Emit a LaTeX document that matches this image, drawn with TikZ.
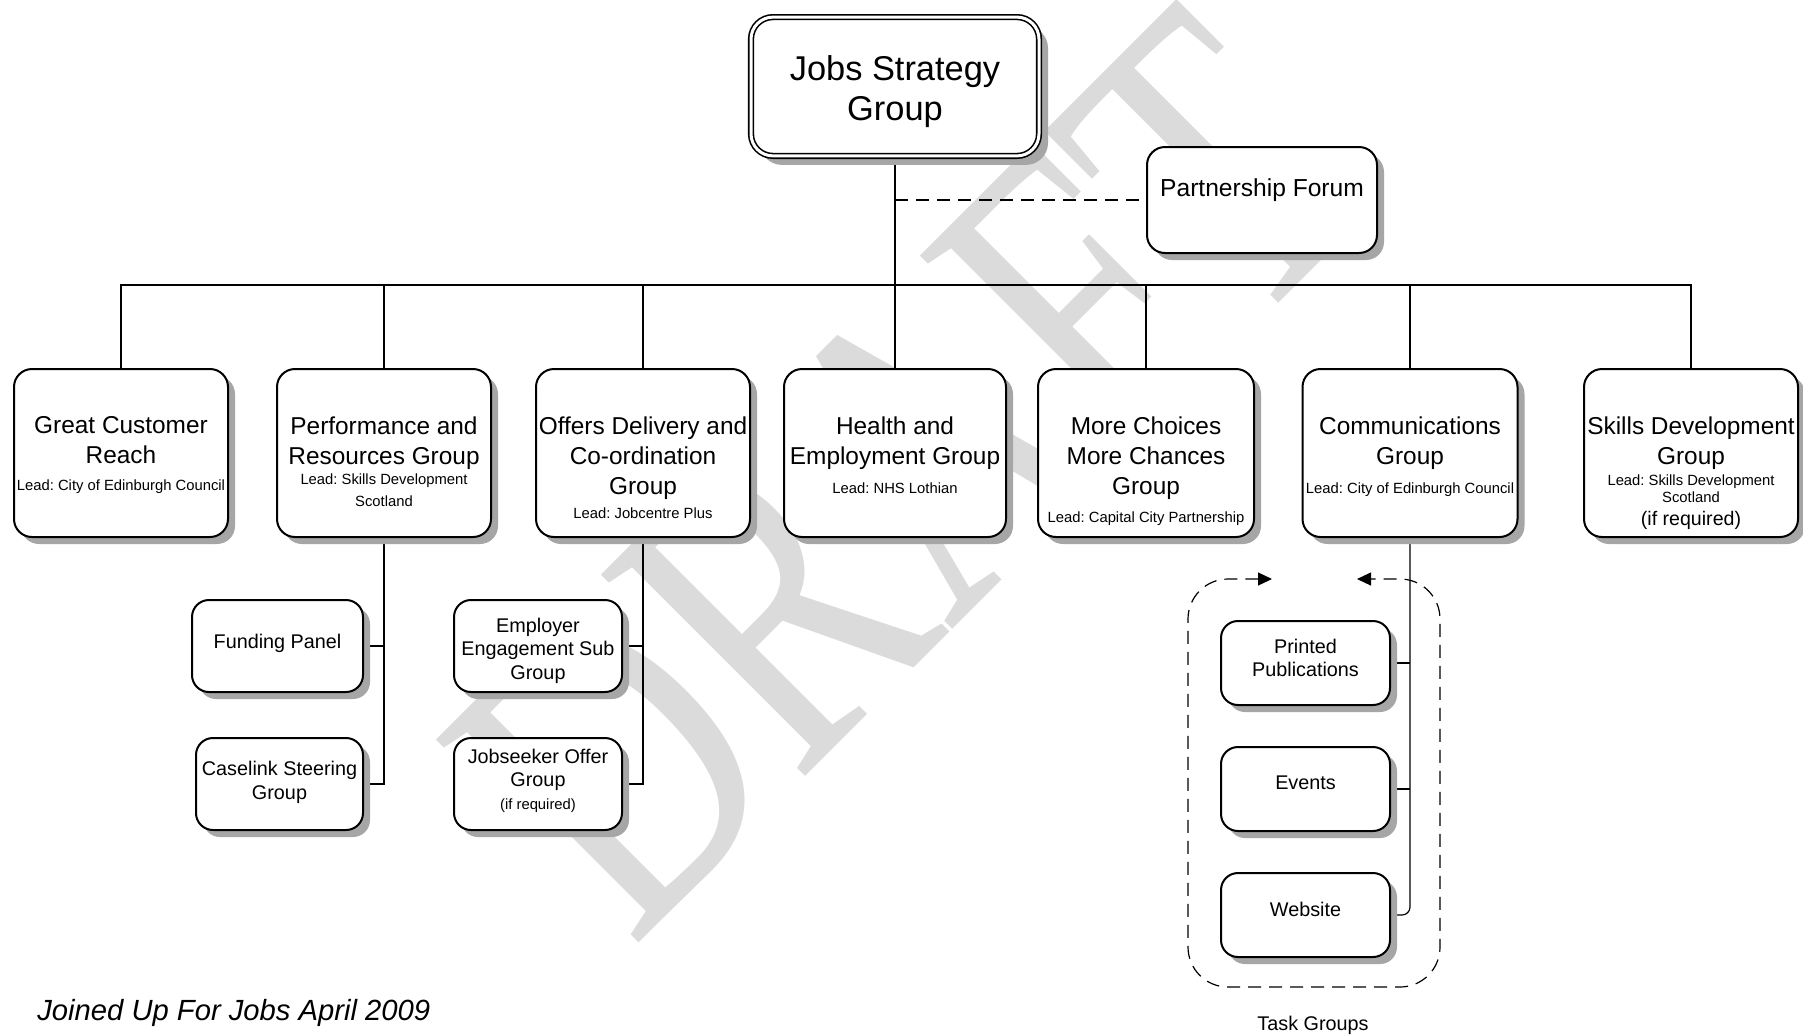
\documentclass[tikz,border=0pt]{standalone}
\usepackage{fontspec}
\setmainfont{Liberation Sans}
\newfontfamily\wmfont{Liberation Serif}
\usetikzlibrary{shadows,arrows.meta}
\pgfdeclarelayer{wmlayer}
\pgfdeclarelayer{bglayer}
\pgfsetlayers{wmlayer,bglayer,main}
\frenchspacing
\tikzset{
 box/.style={draw, line width=1pt, fill=white, rounded corners=9pt, inner sep=0pt,
   general shadow={fill=black!35, shadow xshift=3.5pt, shadow yshift=-3.5pt}},
 lvbox/.style={box, minimum width=107pt, minimum height=84pt},
 subbox/.style={box, rounded corners=8.5pt, minimum height=46pt},
 tkbox/.style={box, rounded corners=8.5pt, minimum width=84.5pt, minimum height=42pt},
 gtxt/.style={anchor=north, inner sep=0pt, align=center, font=\fontsize{12.2}{15}\selectfont},
 ltxt/.style={anchor=north, inner sep=0pt, align=center, font=\fontsize{7.4}{9}\selectfont},
 stxt/.style={anchor=north, inner sep=0pt, align=center, font=\fontsize{9.9}{11.75}\selectfont},
 conn/.style={line width=0.6pt},
 dconn/.style={conn, dash pattern=on 6.5pt off 4pt},
}
\begin{document}
\begin{tikzpicture}[x=0.5pt,y=-0.5pt]
\path[use as bounding box] (0,0) rectangle (1803,1035);

% background and watermark
\begin{pgfonlayer}{wmlayer}
\fill[white] (0,0) rectangle (1803,1035);
\node[anchor=base west, rotate=45, inner sep=0pt, text=black!14,
  font=\wmfont\fontsize{219}{219}\selectfont] (wm) at (632,950) {\scalebox{0.74}[1]{DRAFT}};
\end{pgfonlayer}

% top
\node[box, double, double distance=1.5pt, line width=0.8pt, rounded corners=11pt,
  minimum width=144pt, minimum height=69.4pt,
  general shadow={fill=black!35, shadow xshift=4.5pt, shadow yshift=-4.5pt}] (jsg) at (895,86.5) {};
\node[anchor=north, inner sep=0pt, align=center, font=\fontsize{17.2}{20}\selectfont] (jsg-t) at (895,55.3) {Jobs Strategy\\Group};

\node[box, minimum width=115pt, minimum height=53pt] (pf) at (1262,200) {};
\node[gtxt, font=\fontsize{12.3}{15}\selectfont] (pf-t) at (1262,178.5) {Partnership Forum};

% level 2
\node[lvbox] (gcr) at (121,453) {};
\node[lvbox] (prg) at (384,453) {};
\node[lvbox] (odc) at (643,453) {};
\node[lvbox, minimum width=111pt] (heg) at (895,453) {};
\node[lvbox, minimum width=108pt] (mcm) at (1146,453) {};
\node[lvbox, minimum width=107.5pt] (com) at (1410,453) {};
\node[lvbox] (sdg) at (1691,453) {};

\node[gtxt] (gcr-t) at (121,416) {Great Customer\\Reach};
\node[ltxt] (gcr-l) at (121,479.5) {Lead: City of Edinburgh Council};
\node[gtxt] (prg-t) at (384,416) {Performance and\\Resources Group};
\node[ltxt, font=\fontsize{7.4}{11}\selectfont] (prg-l) at (384,473.5) {Lead: Skills Development\\Scotland};
\node[gtxt] (odc-t) at (643,416) {Offers Delivery and\\Co-ordination\\Group};
\node[ltxt] (odc-l) at (643,507.5) {Lead: Jobcentre Plus};
\node[gtxt] (heg-t) at (895,416) {Health and\\Employment Group};
\node[ltxt] (heg-l) at (895,482.5) {Lead: NHS Lothian};
\node[gtxt] (mcm-t) at (1146,416) {More Choices\\More Chances\\Group};
\node[ltxt] (mcm-l) at (1146,511.5) {Lead: Capital City Partnership};
\node[gtxt] (com-t) at (1410,416) {Communications\\Group};
\node[ltxt] (com-l) at (1410,482.5) {Lead: City of Edinburgh Council};
\node[gtxt] (sdg-t) at (1691,416) {Skills Development\\Group};
\node[ltxt, font=\fontsize{7.4}{8.5}\selectfont] (sdg-l) at (1691,474.5) {Lead: Skills Development\\Scotland};
\node[anchor=north, inner sep=0pt, font=\fontsize{9.8}{11}\selectfont] (sdg-r) at (1691,510.7) {(if required)};

% sub groups
\node[subbox, minimum width=85.5pt] (fp) at (277.5,646) {};
\node[subbox, minimum width=83.5pt] (csg) at (279.5,784) {};
\node[subbox, minimum width=84pt] (ees) at (538,646) {};
\node[subbox, minimum width=84pt] (jog) at (538,784) {};
\node[stxt] (fp-t) at (277.5,633.6) {Funding Panel};
\node[stxt, font=\fontsize{9.9}{12}\selectfont] (csg-t) at (279.5,760.6) {Caselink Steering\\Group};
\node[stxt] (ees-t) at (538,617.6) {Employer\\Engagement Sub\\Group};
\node[stxt] (jog-t) at (538,748.6) {Jobseeker Offer\\Group};
\node[ltxt] (jog-l) at (538,798.5) {(if required)};

% task groups
\node[tkbox] (pp) at (1305.5,663) {};
\node[tkbox] (ev) at (1305.5,789) {};
\node[tkbox] (ws) at (1305.5,915) {};
\node[stxt, font=\fontsize{9.9}{11.5}\selectfont] (pp-t) at (1305.5,638.6) {Printed\\Publications};
\node[stxt] (ev-t) at (1305.5,775.6) {Events};
\node[stxt] (ws-t) at (1305.5,901.6) {Website};
\node[stxt] (tg) at (1313,1015.6) {Task Groups};

\node[anchor=north west, inner sep=0pt, font=\itshape\fontsize{14.6}{17}\selectfont] (foot) at (37,999) {Joined Up For Jobs April 2009};

% connectors
\coordinate (busy) at (0,285);
\coordinate (lt) at (1272,579);
\coordinate (tl) at (1188,579);
\coordinate (bl) at (1188,987);
\coordinate (br) at (1440,987);
\coordinate (tr) at (1440,579);
\coordinate (rt) at (1357,579);
\begin{pgfonlayer}{bglayer}
\draw[conn] (jsg.south) -- (heg.north);
\draw[dconn] (jsg.south |- pf.west) -- (pf.west);
\draw[conn] (gcr.north) |- (sdg.north |- busy) -- (sdg.north);
\foreach \n in {prg,odc,mcm,com} \draw[conn] (\n.north) -- (\n.north |- busy);
\draw[conn] (prg.south) |- (csg.east);
\draw[conn] (fp.east) -- (fp.east -| prg.south);
\draw[conn] (odc.south) |- (jog.east);
\draw[conn] (ees.east) -- (ees.east -| odc.south);
\draw[conn, rounded corners=4pt] (com.south) |- (ws.east);
\draw[conn] (pp.east) -- (pp.east -| com.south);
\draw[conn] (ev.east) -- (ev.east -| com.south);
\draw[dconn, rounded corners=20pt, {Triangle[length=7pt,width=6.5pt]}-{Triangle[length=7pt,width=6.5pt]}]
  (lt) -- (tl) -- (bl) -- (br) -- (tr) -- (rt);
\end{pgfonlayer}
\end{tikzpicture}
\end{document}
